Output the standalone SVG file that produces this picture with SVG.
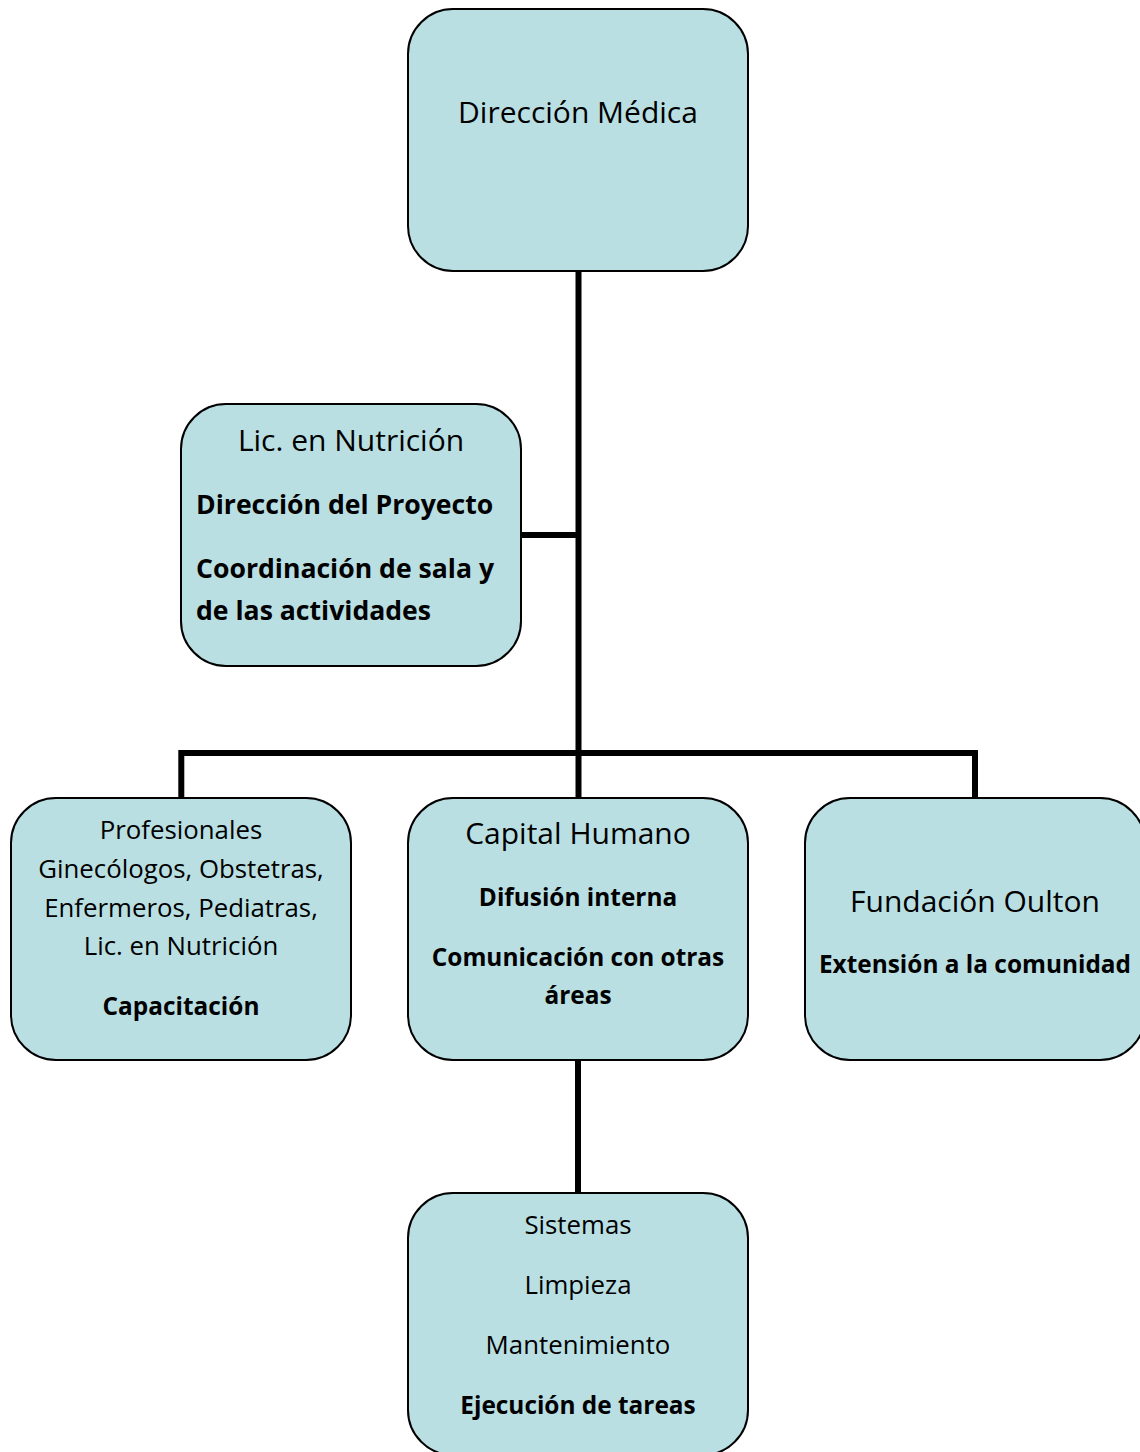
<svg xmlns="http://www.w3.org/2000/svg" width="1140" height="1452" viewBox="0 0 1140 1452">
<style>
.box{fill:#b9dfe3;stroke:#000;stroke-width:2}
.con{stroke:#000;stroke-width:6;fill:none}
text{font-family:"Open Sans","Noto Sans",sans-serif;fill:#000}
.t30{font-size:30px}
.t24{font-size:25.8px}
.b{font-weight:bold;font-size:24.4px}
.lb{font-weight:bold;font-size:26.6px}
.c{text-anchor:middle}
</style>
<rect width="1140" height="1452" fill="#fff"/>
<g id="connectors">
<line class="con" x1="578.5" y1="271" x2="578.5" y2="756"/>
<line class="con" x1="521" y1="535" x2="578" y2="535"/>
<polyline class="con" points="181.3,798 181.3,753 975,753 975,798"/>
<line class="con" x1="578.5" y1="753" x2="578.5" y2="798"/>
<line class="con" x1="578" y1="1060" x2="578" y2="1193"/>
</g>
<g id="direccion-medica">
<rect class="box" x="408" y="9" width="340" height="262" rx="45"/>
<text class="t30 c" x="578" y="123">Dirección Médica</text>
</g>
<g id="lic-nutricion">
<rect class="box" x="181" y="404" width="340" height="262" rx="45"/>
<text class="t30 c" x="351" y="451">Lic. en Nutrición</text>
<text class="lb" x="196" y="514">Dirección del Proyecto</text>
<text class="lb" x="196" y="578">Coordinación de sala y</text>
<text class="lb" x="196" y="620">de las actividades</text>
</g>
<g id="profesionales">
<rect class="box" x="11" y="798" width="340" height="262" rx="45"/>
<text class="t24 c" x="181" y="839">Profesionales</text>
<text class="t24 c" x="181" y="878">Ginecólogos, Obstetras,</text>
<text class="t24 c" x="181" y="917">Enfermeros, Pediatras,</text>
<text class="t24 c" x="181" y="955">Lic. en Nutrición</text>
<text class="b c" x="181" y="1015">Capacitación</text>
</g>
<g id="capital-humano">
<rect class="box" x="408" y="798" width="340" height="262" rx="45"/>
<text class="t30 c" x="578" y="844">Capital Humano</text>
<text class="b c" x="578" y="906">Difusión interna</text>
<text class="b c" x="578" y="966">Comunicación con otras</text>
<text class="b c" x="578" y="1004">áreas</text>
</g>
<g id="fundacion-oulton">
<rect class="box" x="805" y="798" width="340" height="262" rx="45"/>
<text class="t30 c" x="975" y="912">Fundación Oulton</text>
<text class="b c" x="975" y="973">Extensión a la comunidad</text>
</g>
<g id="sistemas">
<rect class="box" x="408" y="1193" width="340" height="262" rx="45"/>
<text class="t24 c" x="578" y="1234">Sistemas</text>
<text class="t24 c" x="578" y="1294">Limpieza</text>
<text class="t24 c" x="578" y="1354">Mantenimiento</text>
<text class="b c" x="578" y="1414">Ejecución de tareas</text>
</g>
</svg>
